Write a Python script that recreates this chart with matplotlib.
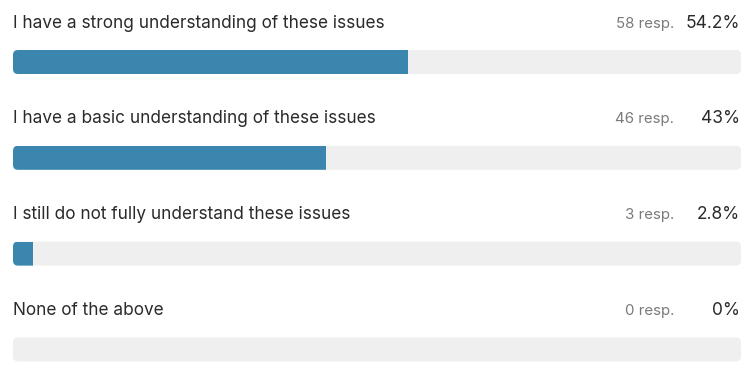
import matplotlib.pyplot as plt
from matplotlib.patches import FancyBboxPatch

# survey answers
labels = [
    "I have a strong understanding of these issues",
    "I have a basic understanding of these issues",
    "I still do not fully understand these issues",
    "None of the above",
]
responses = [58, 46, 3, 0]
percents = [54.2, 43, 2.8, 0]
pct_text = ["54.2%", "43%", "2.8%", "0%"]

plt.rcParams['font.family'] = ['Inter', 'DejaVu Sans']

W, H = 752, 374
fig = plt.figure(figsize=(W / 100, H / 100), dpi=100)
ax = fig.add_axes([0, 0, 1, 1])
# x in percent: 0% at px 13, 100% at px 741; y in pixels from top
x0_px, x1_px = 13, 741
px_per_pct = (x1_px - x0_px) / 100
ax.set_xlim(-x0_px / px_per_pct, (W - x0_px) / px_per_pct)
ax.set_ylim(H, 0)
ax.axis('off')

row_step = 95.8
bar_top = 50
bar_h = 24
text_base = 27.5
radius = 5 / px_per_pct

for i, lab in enumerate(labels):
    top = bar_top + i * row_step
    track = FancyBboxPatch((0, top), 100, bar_h,
                           boxstyle=f"round,pad=0,rounding_size={radius}",
                           mutation_aspect=px_per_pct,
                           fc='#efefef', ec='none', zorder=1)
    ax.add_patch(track)
    bars = ax.barh(top + bar_h / 2, percents[i], height=bar_h, left=0,
                   color='#3b86ae', zorder=2)
    for b in bars:
        b.set_clip_path(track)

    yb = text_base + i * row_step
    ax.text(0, yb, lab, fontsize=12.4, color='#2a2a2a', va='baseline', ha='left')
    ax.text((674 - x0_px) / px_per_pct, yb, f"{responses[i]} resp.", fontsize=10.8,
            color='#7a7a7a', va='baseline', ha='right')
    ax.text((740 - x0_px) / px_per_pct, yb, pct_text[i], fontsize=12.5,
            color='#2a2a2a', va='baseline', ha='right')

fig.savefig("out.png", dpi=100, facecolor='white')
